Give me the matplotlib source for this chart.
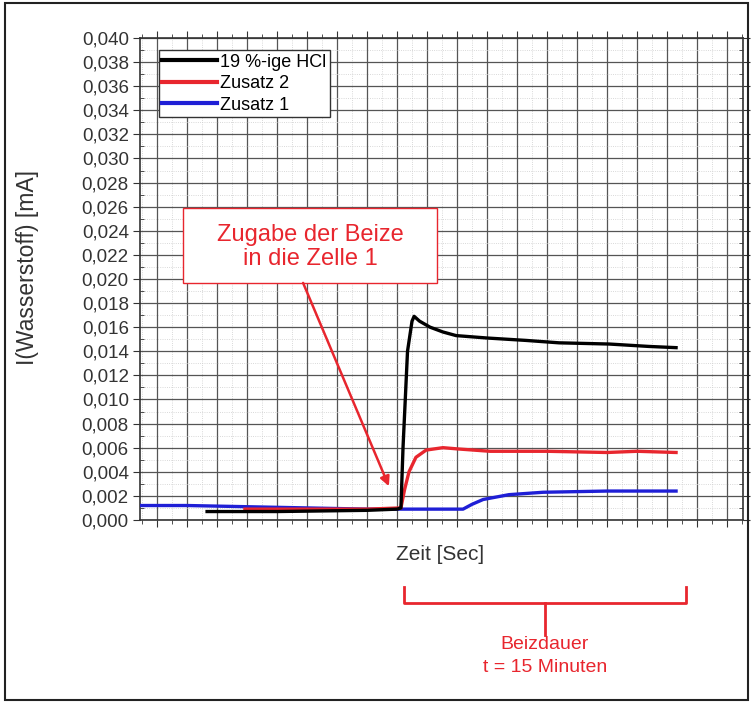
import numpy as np
import matplotlib.pyplot as plt
from matplotlib.ticker import MultipleLocator, FuncFormatter
from matplotlib.patches import Rectangle
import matplotlib.transforms as mtransforms

plt.rcParams['font.family'] = ['Liberation Sans', 'DejaVu Sans']

# time in s, current in mA
t_hcl = [167, 400, 700, 800, 813, 820, 835, 850, 857, 875, 910, 953, 997, 1100, 1230, 1340, 1507, 1640, 1730]
i_hcl = [0.0007, 0.0007, 0.0008, 0.0009, 0.0010, 0.0060, 0.0140, 0.0165, 0.0169, 0.0165, 0.0160, 0.0156, 0.0153, 0.0151, 0.0149, 0.0147, 0.0146, 0.0144, 0.0143]

t_z2 = [293, 577, 700, 813, 825, 840, 863, 897, 953, 1000, 1110, 1300, 1500, 1600, 1730]
i_z2 = [0.0009, 0.0009, 0.0009, 0.0010, 0.0025, 0.0040, 0.0052, 0.0058, 0.0060, 0.0059, 0.0057, 0.0057, 0.0056, 0.0057, 0.0056]

t_z1 = [-57, 100, 300, 500, 700, 813, 900, 1020, 1050, 1087, 1130, 1173, 1230, 1287, 1500, 1730]
i_z1 = [0.0012, 0.0012, 0.0011, 0.0010, 0.0009, 0.0009, 0.0009, 0.0009, 0.0013, 0.0017, 0.0019, 0.0021, 0.0022, 0.0023, 0.0024, 0.0024]

red = '#e8262e'
blue = '#1f1fd6'
grey = '#333333'

fig = plt.figure(figsize=(7.52, 7.04), dpi=100)
ax = fig.add_axes([0.186, 0.2614, 0.802, 0.6847])

ax.plot(t_z1, i_z1, color=blue, lw=2.4, label='Zusatz 1', zorder=3)
ax.plot(t_hcl, i_hcl, color='black', lw=2.4, label='19 %-ige HCl', zorder=4)
ax.plot(t_z2, i_z2, color=red, lw=2.4, label='Zusatz 2', zorder=3)

ax.set_xlim(-57, 1953)
ax.set_ylim(0, 0.040)
ax.yaxis.set_major_locator(MultipleLocator(0.002))
ax.yaxis.set_minor_locator(MultipleLocator(0.001))
ax.xaxis.set_major_locator(MultipleLocator(100))
ax.xaxis.set_minor_locator(MultipleLocator(50))
ax.yaxis.set_major_formatter(FuncFormatter(lambda v, p: f'{v:.3f}'.replace('.', ',')))
ax.set_xticklabels([])
ax.tick_params(axis='both', which='both', labelsize=13.5, colors=grey)
ax.tick_params(axis='x', which='major', direction='out', length=5, top=True)
ax.tick_params(axis='x', which='minor', direction='out', length=3, top=True)
ax.tick_params(axis='y', which='major', direction='out', length=5, right=True, pad=3)
ax.tick_params(axis='y', which='minor', direction='in', length=3, right=True)

ax.grid(which='major', color='#555555', lw=0.9)
ax.grid(which='minor', color='#cccccc', lw=0.6, ls=':')
ax.set_axisbelow(True)
for s in ax.spines.values():
    s.set_color(grey)
    s.set_linewidth(1.2)

ax.set_ylabel('I(Wasserstoff) [mA]', fontsize=16.5, color=grey)
ax.yaxis.set_label_coords(-0.168, 0.523)
ax.set_xlabel('Zeit [Sec]', fontsize=15, color=grey)
ax.xaxis.set_label_coords(0.4975, -0.052)

h, l = ax.get_legend_handles_labels()
order = [1, 2, 0]
leg = ax.legend([h[i] for i in order], [l[i] for i in order], loc='upper left',
                bbox_to_anchor=(0.0315, 0.975), fontsize=13, frameon=True, fancybox=False,
                handlelength=3.0, handletextpad=0.2, borderpad=0.2, labelspacing=0.25,
                borderaxespad=0)
leg.get_frame().set_edgecolor(grey)
leg.get_frame().set_linewidth(1.0)
leg.get_frame().set_alpha(1)
for line in leg.get_lines():
    line.set_linewidth(3)

# annotation box with arrow to the point of addition
ax.add_patch(Rectangle((87, 0.01967), 846, 0.00622, fc='white', ec=red, lw=1.0, zorder=5))
ax.text(510, 0.02266, 'Zugabe der Beize\nin die Zelle 1', fontsize=17, color=red,
        ha='center', va='center', linespacing=1.1, zorder=6)
ax.annotate('', xy=(773, 0.0028), xytext=(487, 0.01967),
            arrowprops=dict(arrowstyle='-|>', color=red, lw=1.8, mutation_scale=14,
                            shrinkA=0, shrinkB=0), zorder=5)

# bracket marking the pickling time
trans = mtransforms.blended_transform_factory(ax.transData, ax.transAxes)
b0, b1 = 823, 1763
bm = (b0 + b1) / 2
ax.plot([b0, b0, b1, b1], [-0.139, -0.172, -0.172, -0.139], color=red, lw=2,
        transform=trans, clip_on=False)
ax.plot([bm, bm], [-0.172, -0.239], color=red, lw=2, transform=trans, clip_on=False)
ax.text(bm, -0.282, 'Beizdauer\nt = 15 Minuten', transform=trans, ha='center', va='center',
        color=red, fontsize=14, linespacing=1.4)

fig.patches.append(Rectangle((0.0066, 0.0057), 0.988, 0.99, transform=fig.transFigure,
                             fill=False, ec='#222222', lw=1.5))

fig.savefig('out.png', dpi=100)
